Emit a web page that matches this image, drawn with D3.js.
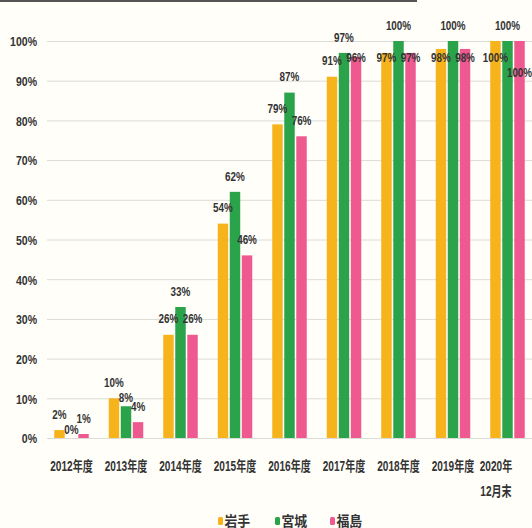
<!DOCTYPE html>
<html><head><meta charset="utf-8">
<script src="https://cdn.jsdelivr.net/npm/d3@7"></script>
<style>
html,body{margin:0;padding:0;background:#fffef9;}
svg{display:block;}
text{font-family:"Liberation Sans","Noto Sans CJK JP",sans-serif;font-weight:bold;fill:#333;}
</style></head><body>
<svg id="c" width="532" height="528"></svg>
<script>
const categories = ["2012年度","2013年度","2014年度","2015年度","2016年度","2017年度","2018年度","2019年度","2020年\n12月末"];
const seriesNames = ["岩手","宮城","福島"];
const iwate  = [2,10,26,54,79,91,97,98,100];
const miyagi = [0,8,33,62,87,97,100,100,100];
const fukushima = [1,4,26,46,76,96,97,98,100];
const yTicks = [0,10,20,30,40,50,60,70,80,90,100];
const colors = ["#f6b31c","#2ba34b","#ee5a8f"];

const values = [iwate, miyagi, fukushima];
const svg = d3.select("#c");
const W = 532, H = 528;

// scan edge artifact at top
svg.append("rect").attr("x",0).attr("y",0).attr("width",417).attr("height",2).attr("fill","#555");

const y = d3.scaleLinear().domain([0,100]).range([438,41]);
const x0 = d3.scaleBand().domain(categories).range([44.25,534.75]).paddingInner(0.367).paddingOuter(0.1835);
const x1 = d3.scaleBand().domain(seriesNames).range([0,x0.bandwidth()]).paddingInner(0.13);

function ctext(parent, x, yy, txt, size, sx, anchor){
  return parent.append("text")
    .attr("transform",`translate(${x},${yy}) scale(${sx},1)`)
    .attr("text-anchor",anchor||"middle").attr("font-size",size).text(txt);
}

// grid
const YSX = 0.78;
const yAxis = d3.axisLeft(y).tickValues(yTicks).tickFormat(d=>d+"%").tickSize(-(W-47)).tickPadding(10);
const ga = svg.append("g").attr("transform","translate(47,0)").call(yAxis);
ga.select(".domain").remove();
ga.selectAll(".tick line").attr("stroke","#dcdcd6").attr("stroke-width",1);
ga.selectAll(".tick text").attr("font-size",13.5).attr("dy","0.36em")
  .attr("x",-10/YSX).attr("transform",`scale(${YSX},1)`);

// bars
const groups = svg.append("g").selectAll("g").data(categories).join("g")
  .attr("transform",d=>`translate(${x0(d)},0)`);
groups.selectAll("rect").data((d,i)=>seriesNames.map((s,j)=>({s,j,v:values[j][i]})))
  .join("rect")
  .attr("x",d=>x1(d.s)).attr("width",x1.bandwidth())
  .attr("y",d=>y(d.v)).attr("height",d=>y(0)-y(d.v))
  .attr("fill",d=>colors[d.j]);

// data labels
const lab = svg.append("g");
categories.forEach((c,i)=>{
  const placed = [];
  seriesNames.forEach((s,j)=>{
    const v = values[j][i];
    const cx = x0(c)+x1(s)+x1.bandwidth()/2;
    let cy = y(v)-16;
    if (j!==1) cy = Math.max(cy, y(100)+16);
    const txt = v+"%";
    const w = txt.length*6.2+1;
    placed.forEach(p=>{
      if (Math.abs(p.cy-cy)<8 && Math.abs(p.cx-cx)<(p.w+w)/2) cy = p.cy+15;
    });
    placed.push({cx,cy,w});
    ctext(lab, cx, cy+4.7, txt, 13, 0.76);
  });
});

// x labels
const xl = svg.append("g");
categories.forEach(c=>{
  const lines = c.split("\n");
  let cx = x0(c)+x0.bandwidth()/2;
  if (lines.length>1) cx = Math.min(cx, 496);
  lines.forEach((l,k)=>ctext(xl, cx, 471+k*25, l, 14, 0.72));
});

// legend
const legX = [218,275,330];
const lg = svg.append("g");
seriesNames.forEach((s,j)=>{
  lg.append("rect").attr("x",legX[j]).attr("y",517).attr("width",5).attr("height",8).attr("rx",1.5).attr("fill",colors[j]);
  lg.append("text").attr("transform",`translate(${legX[j]+6.5},525.5) scale(0.92,1)`).attr("font-size",14).text(s);
});
</script>
</body></html>
